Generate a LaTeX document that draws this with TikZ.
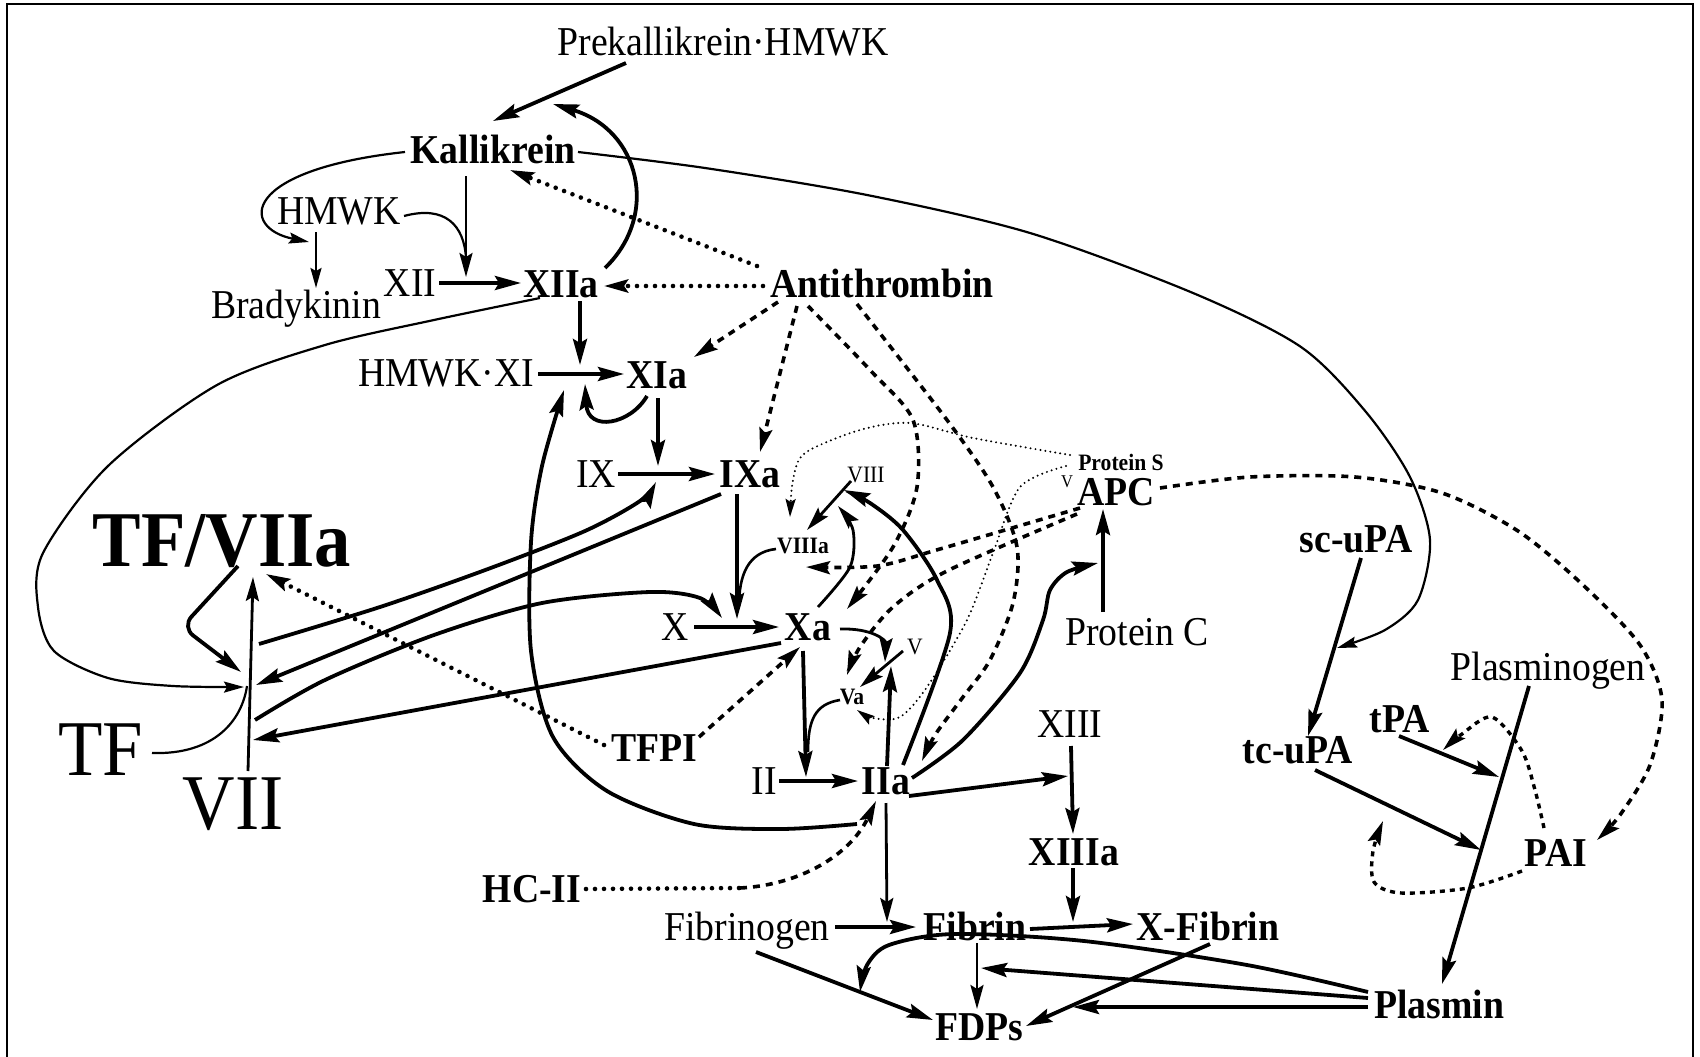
\documentclass[tikz,border=0pt]{standalone}
\usepackage{fontspec}
\setmainfont{Liberation Serif}[FakeStretch=0.92]
\usetikzlibrary{arrows.meta}
\begin{document}
\begin{tikzpicture}[x=1pt,y=-1pt,
  nm/.style={inner sep=2pt,anchor=base,font=\fontsize{41}{46}\selectfont},
  bd/.style={inner sep=2pt,anchor=base,font=\fontsize{41}{46}\selectfont\bfseries},
  sm/.style={inner sep=1pt,anchor=base,font=\fontsize{23.5}{26}\selectfont},
  tiny/.style={inner sep=0pt,anchor=base,font=\fontsize{18}{20}\selectfont},
  smb/.style={inner sep=1pt,anchor=base,font=\fontsize{23.5}{26}\selectfont\bfseries},
  lg/.style={inner sep=2pt,anchor=base,font=\fontsize{79}{86}\selectfont},
  lgb/.style={inner sep=2pt,anchor=base,font=\fontsize{79}{86}\selectfont\bfseries},
  thk/.style={line width=3.8pt,-{Stealth[length=26pt,width=14pt,inset=4pt]}},
  med/.style={line width=2.8pt,-{Stealth[length=24pt,width=13pt,inset=4pt]}},
  thn/.style={line width=2.2pt},
  thna/.style={line width=2.2pt,-{Stealth[length=20pt,width=11pt,inset=3pt]}},
  dts/.style={line width=4.6pt,line cap=round,dash pattern=on 0pt off 9pt,-{Stealth[length=24pt,width=13pt,inset=4pt]}},
  dsh/.style={line width=3.6pt,dash pattern=on 7pt off 6pt,-{Stealth[length=24pt,width=13pt,inset=4pt]}},
  fdt/.style={line width=2.2pt,line cap=round,dash pattern=on 0pt off 5pt,-{Stealth[length=18pt,width=10pt,inset=3pt]}},
  pdsh/.style={line width=3.4pt,dash pattern=on 5pt off 5pt,-{Stealth[length=24pt,width=13pt,inset=4pt]}},
  frame/.style={line width=2.5pt}
]
\useasboundingbox (0,0) rectangle (1700,1057);
\draw[frame] (7,1057) -- (7,4) -- (1693,4) -- (1693,1057);

% ---------- nodes ----------
\node[nm] (pk) at (723,56) {Prekallikrein·HMWK};
\node[bd] (kal) at (493,163) {Kallikrein};
\node[nm] (hmwk) at (339,224) {HMWK};
\node[nm] (brady) at (296,318) {Bradykinin};
\node[nm] (xii) at (410,296) {XII};
\node[bd] (xiia) at (561,297) {XIIa};
\node[bd] (at) at (882,297) {Antithrombin};
\node[nm] (hxi) at (446,386) {HMWK·XI};
\node[bd] (xia) at (657,388) {XIa};
\node[nm] (ix) at (596,487) {IX};
\node[bd] (ixa) at (750,487) {IXa};
\node[sm] (viii) at (866,482) {VIII};
\node[smb] (viiia) at (803,553) {VIIIa};
\node[smb] (ps) at (1121,470) {Protein S};
\node[tiny] (vs) at (1067,487) {V};
\node[bd] (apc) at (1116,505) {APC};
\node[nm] (protc) at (1137,645) {Protein C};
\node[nm] (x) at (675,640) {X};
\node[bd] (xa) at (808,640) {Xa};
\node[sm] (v) at (915,654) {V};
\node[smb] (va) at (852,704) {Va};
\node[bd] (tfpi) at (654,761) {TFPI};
\node[nm] (ii) at (764,794) {II};
\node[bd] (iia) at (886,794) {IIa};
\node[nm] (xiii) at (1070,737) {XIII};
\node[bd] (xiiia) at (1074,865) {XIIIa};
\node[bd] (hcii) at (532,902) {HC-II};
\node[nm] (fbg) at (747,940) {Fibrinogen};
\node[bd] (fib) at (975,940) {Fibrin};
\node[bd] (xfib) at (1208,940) {X-Fibrin};
\node[bd] (fdps) at (979,1040) {FDPs};
\node[bd] (plasmin) at (1439,1018) {Plasmin};
\node[nm] (plg) at (1548,680) {Plasminogen};
\node[bd] (tpa) at (1400,732) {tPA};
\node[bd] (tcupa) at (1298,763) {tc-uPA};
\node[bd] (pai) at (1556,866) {PAI};
\node[bd] (scupa) at (1356,552) {sc-uPA};
\node[lgb] (tfviia) at (222,566) {TF/VIIa};
\node[lg] (tf) at (101,775) {TF};
\node[lg] (vii) at (233,829) {VII};

% ---------- junction coordinates ----------
\coordinate (jxii) at (466,277);
\coordinate (jxi) at (580,365);
\coordinate (jix) at (658,466);
\coordinate (jx) at (737,619);
\coordinate (jviii) at (838,506);
\coordinate (jv) at (885,662);
\coordinate (jii) at (806,777);
\coordinate (jxiii) at (1068,776);
\coordinate (jfib) at (887,922);
\coordinate (jxfib) at (1073,922);
\coordinate (jfdp) at (860,992);
\coordinate (jfdp2) at (981,968);
\coordinate (jplg1) at (1499,777);
\coordinate (jplg2) at (1481,850);
\coordinate (jupa) at (1337,648);
\coordinate (jtf) at (244,687);

% ---------- contact system ----------
\draw[thk] (626,63) -- (493,121);
\draw[thk] (605,268) .. controls (660,215) and (640,130) .. (553,104);
\draw[med] (466,176) -- (jxii);
\draw[thn] (404,216) .. controls (445,205) and (464,225) .. (466,258);
\draw[thna] (405,152) .. controls (240,170) and (240,228) .. (309,242);
\draw[thna] (316,232) -- (316,288);
\draw[thk] (439,283) -- (521,283);
\draw[thna] plot[smooth] coordinates {(540,298) (434,320) (325,345) (217,385) (108,466) (43,553) (38,607) (54,651) (108,678) (173,686) (jtf)};
\draw[thk] (580,301) -- (jxi);
\draw[thk] (538,374) -- (624,374);
\draw[thk] (647,396) .. controls (630,425) and (588,432) .. (585,384);
\draw[thk] (658,398) -- (jix);
\draw[thk] (618,474) -- (715,474);

% ---------- antithrombin ----------
\draw[dts] (763,286) -- (604,286);
\draw[dts] (757,266) -- (510,170);
\draw[dsh] (778,302) -- (694,357);
\draw[dsh] (797,306) -- (760,452);
\draw[dsh] plot[smooth] coordinates {(808,306) (870,370) (913,420) (917,487) (893,547) (847,609)};
\draw[dsh] plot[smooth] coordinates {(857,304) (947,420) (993,487) (1017,547) (1013,603) (990,660) (963,697) (935,735) (922,761)};

% ---------- protein S / APC ----------
\draw[fdt] plot[smooth] coordinates {(1070,455) (973,438) (910,423) (860,430) (805,453) (793,480) (790,517)};
\draw[fdt] plot[smooth] coordinates {(1066,466) (1020,487) (993,553) (967,620) (927,687) (900,717) (873,718) (857,710)};
\draw[dsh] plot[smooth] coordinates {(1080,508) (940,549) (877,566) (806,567)};
\draw[dsh] plot[smooth] coordinates {(1077,514) (947,571) (893,607) (860,647) (847,675)};
\draw[dsh] plot[smooth] coordinates {(1160,488) (1250,477) (1355,477) (1442,493) (1518,531) (1583,585) (1640,645) (1662,700) (1650,765) (1620,815) (1597,840)};
\draw[thk] (1103,612) -- (1103,509);
\draw[thk] plot[smooth] coordinates {(912,778) (963,740) (1020,673) (1043,620) (1050,590) (1067,572) (1098,563)};

% ---------- tenase / prothrombinase ----------
\draw[thk] (737,494) -- (jx);
\draw[thn,line width=2.6pt] (776,549) .. controls (748,552) and (739,575) .. (739,606);
\draw[med] (851,481) -- (807,530);
\draw[med] plot[smooth] coordinates {(818,607) (850,567) (853,530) (jviii)};
\draw[thk] plot[smooth] coordinates {(903,765) (950,633) (937,580) (903,530) (870,503) (844,490)};
\draw[thk] (694,627) -- (779,627);
\draw[med] (840,629) .. controls (872,628) and (886,640) .. (jv);
\draw[med] (903,651) -- (860,687);
\draw[thk] (887,766) -- (891,666);
\draw[thk] (803,651) -- (jii);
\draw[thn,line width=2.6pt] (840,700) .. controls (815,704) and (808,720) .. (808,752);
\draw[thk] (779,781) -- (858,781);

% ---------- extrinsic ----------
\draw[thk] plot[smooth] coordinates {(255,720) (325,680) (434,635) (542,603) (650,592) (700,598) (722,618)};
\draw[thk] plot[smooth] coordinates {(259,644) (380,607) (488,569) (585,531) (640,501) (656,482)};
\draw[thk] (721,494) -- (256,685);
\draw[thk] (781,643) -- (253,740);
\draw[med] (248,771) -- (253,577);
\draw[thk,rounded corners=14pt] (238,566) -- (182,627) -- (241,672);
\draw[thn] (152,753) .. controls (215,755) and (242,720) .. (247,686);
\draw[dts] (604,745) -- (266,574);
\draw[dsh] (699,737) -- (800,647);
\draw[thk] plot[smooth] coordinates {(857,824) (781,829) (694,824) (607,791) (553,737) (531,651) (531,542) (542,466) (564,390)};

% ---------- fibrin ----------
\draw[thk] (909,796) -- (jxiii);
\draw[thk] (1071,746) -- (1073,834);
\draw[med] (886,803) -- (jfib);
\draw[dts,-] (586,889) -- (740,888);
\draw[dsh] (740,888) .. controls (800,885) and (850,855) .. (876,801);
\draw[thk] (835,927) -- (916,927);
\draw[thk] (1073,868) -- (jxfib);
\draw[thk] (1030,929) -- (1133,924);
\draw[thk] (756,952) -- (933,1020);
\draw[med] (977,943) -- (977,1009);
\draw[thk] (1210,944) -- (1026,1026);
\draw[thk] plot[smooth] coordinates {(1368,992) (1247,965) (1084,941) (954,934) (889,945) (867,965) (jfdp)};
\draw[thk] (1368,998) -- (jfdp2);
\draw[thk] (1368,1007) -- (1073,1007);

% ---------- fibrinolysis ----------
\draw[thk] (1529,686) -- (1442,984);
\draw[thk] (1399,736) -- (jplg1);
\draw[thk] (1315,770) -- (jplg2);
\draw[thk] (1361,558) -- (1308,736);
\draw[thna] plot[smooth] coordinates {(578,152) (705,168) (867,195) (1030,233) (1193,293) (1301,347) (1366,412) (1410,477) (1430,540) (1418,600) (1385,630) (jupa)};
\draw[pdsh] plot[smooth] coordinates {(1544,828) (1535,790) (1522,751) (1492,717) (1462,734) (1443,750)};
\draw[pdsh] plot[smooth] coordinates {(1522,871) (1468,888) (1401,893) (1374,882) (1373,851) (1383,821)};
\end{tikzpicture}
\end{document}
